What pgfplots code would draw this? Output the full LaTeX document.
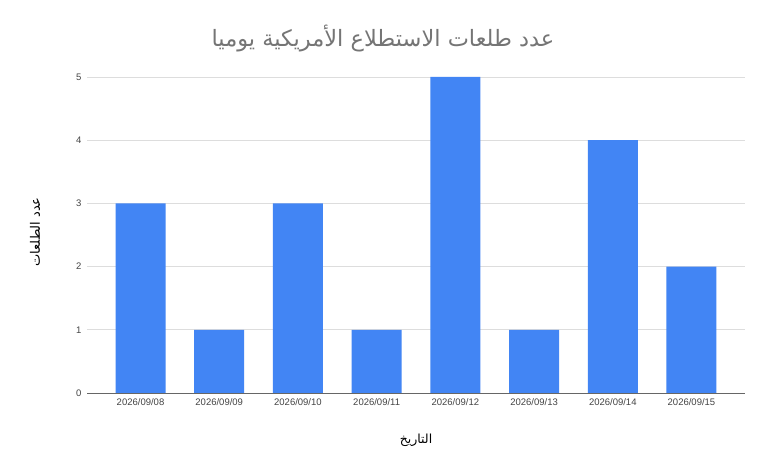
\documentclass[border=0pt]{standalone}
\usepackage{fontspec}
\setmainfont{Liberation Sans}
\newfontfamily\arabicfont[Script=Arabic]{DejaVu Sans}
\usepackage{pgfplots}
\pgfplotsset{compat=1.18}
\TeXXeTstate=1
\definecolor{barblue}{HTML}{4285F4}
\definecolor{gridgray}{HTML}{DDDDDD}
\definecolor{axisgray}{HTML}{666666}
\definecolor{ticktext}{HTML}{444444}
\definecolor{titlegray}{HTML}{757575}
\begin{document}
\begin{tikzpicture}[x=1pt,y=1pt]
\path[use as bounding box, fill=white] (0,0) rectangle (769,476);
\begin{axis}[
  at={(87pt,83pt)}, anchor=south west,
  scale only axis, width=658pt, height=316pt,
  ymin=0, ymax=5, xmin=-0.68, xmax=7.68,
  ybar, bar width=0.635,
  ytick={0,1,2,3,4,5},
  xtick={0,1,2,3,4,5,6,7},
  xticklabels={2026/09/08,2026/09/09,2026/09/10,2026/09/11,2026/09/12,2026/09/13,2026/09/14,2026/09/15},
  separate axis lines,
  axis x line*=bottom, axis y line*=left,
  x axis line style={draw=axisgray, line width=0.8pt, -},
  y axis line style={draw=none},
  major tick length=0pt,
  ymajorgrids, grid style={draw=gridgray, line width=0.6pt},
  /pgf/number format/assume math mode=true,
  tick label style={font=\fontsize{9.5}{11}\selectfont, text=ticktext},
  yticklabel style={xshift=-2pt},
  xticklabel style={yshift=-2pt},
]
\addplot[fill=barblue, draw=none] coordinates {(0,3) (1,1) (2,3) (3,1) (4,5) (5,1) (6,4) (7,2)};
\end{axis}
\node[text=titlegray, font=\fontsize{22.5}{26}\selectfont] at (383,437) {\arabicfont\beginR عدد طلعات الاستطلاع الأمريكية يوميا\endR};
\node[text=black, rotate=90, font=\fontsize{13}{15}\selectfont] at (35,244) {\arabicfont\beginR عدد الطلعات\endR};
\node[text=black, font=\fontsize{12.5}{14}\selectfont] at (416,36) {\arabicfont\beginR التاريخ\endR};
\end{tikzpicture}
\end{document}
